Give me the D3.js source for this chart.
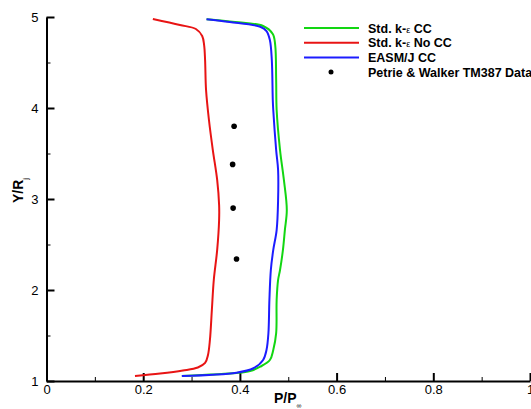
<!DOCTYPE html>
<html>
<head>
<meta charset="utf-8">
<script src="https://cdn.jsdelivr.net/npm/d3@7"></script>
<style>
  body { margin: 0; background: #fff; }
  svg { display: block; font-family: Arial, "Liberation Sans", sans-serif; }
  .axis path, .axis line { stroke: #000; }
  .axis text { font-size: 13px; fill: #000; }
</style>
</head>
<body>
<div id="chart"></div>
<script>
// series: [P/Pinf, Y/Rj]
const stdKeCC = [
  [0.280, 1.055], [0.338, 1.071], [0.393, 1.088], [0.421, 1.110], [0.442, 1.157],
  [0.462, 1.231], [0.469, 1.341], [0.475, 1.527], [0.476, 1.890], [0.479, 2.110],
  [0.483, 2.220], [0.489, 2.440], [0.493, 2.659], [0.497, 2.879], [0.491, 3.209],
  [0.483, 3.538], [0.476, 3.978], [0.475, 4.308], [0.473, 4.692], [0.468, 4.813],
  [0.448, 4.901], [0.390, 4.945], [0.331, 4.975]
];
const stdKeNoCC = [
  [0.183, 1.055], [0.235, 1.082], [0.282, 1.115], [0.313, 1.148], [0.328, 1.198],
  [0.334, 1.286], [0.338, 1.451], [0.342, 1.780], [0.346, 2.110], [0.353, 2.440],
  [0.357, 2.769], [0.357, 2.934], [0.353, 3.209], [0.344, 3.538], [0.336, 3.868],
  [0.330, 4.198], [0.328, 4.527], [0.326, 4.692], [0.322, 4.791], [0.309, 4.868],
  [0.276, 4.912], [0.220, 4.978]
];
const easmCC = [
  [0.280, 1.055], [0.393, 1.091], [0.428, 1.140], [0.448, 1.231], [0.455, 1.341],
  [0.459, 1.527], [0.461, 1.890], [0.464, 2.220], [0.469, 2.440], [0.476, 2.659],
  [0.479, 2.989], [0.479, 3.319], [0.475, 3.538], [0.469, 3.978], [0.468, 4.088],
  [0.466, 4.527], [0.462, 4.747], [0.455, 4.846], [0.442, 4.893], [0.379, 4.945],
  [0.331, 4.975]
];
const petrieData = [
  [0.388, 3.80], [0.385, 3.38], [0.386, 2.90], [0.393, 2.34]
];

const xMajor = [0, 0.2, 0.4, 0.6, 0.8, 1];
const xMinor = [0.1, 0.3, 0.5, 0.7, 0.9];
const yMajor = [1, 2, 3, 4, 5];
const yMinor = [1.5, 2.5, 3.5, 4.5];

const legendItems = [
  { label: 'Std. k-', eps: true, tail: ' CC', color: '#12d612', kind: 'line' },
  { label: 'Std. k-', eps: true, tail: ' No CC', color: '#e81414', kind: 'line' },
  { label: 'EASM/J CC', eps: false, tail: '', color: '#1c1cff', kind: 'line' },
  { label: 'Petrie & Walker TM387 Data', eps: false, tail: '', color: '#000', kind: 'dot' }
];

const W = 531, H = 409;
const x = d3.scaleLinear().domain([0, 1]).range([46.5, 530]);
const y = d3.scaleLinear().domain([1, 5]).range([381, 17]);

const svg = d3.select('#chart').append('svg')
  .attr('width', W).attr('height', H);

// minor ticks
svg.append('g').attr('class', 'axis')
  .attr('transform', `translate(0,${y(1)})`)
  .call(d3.axisBottom(x).tickValues(xMinor).tickSize(-4).tickFormat(''))
  .call(g => g.select('.domain').remove());
svg.append('g').attr('class', 'axis')
  .attr('transform', `translate(${x(0)},0)`)
  .call(d3.axisLeft(y).tickValues(yMinor).tickSize(-4).tickFormat(''))
  .call(g => g.select('.domain').remove());

// major ticks
svg.append('g').attr('class', 'axis')
  .attr('transform', `translate(0,${y(1)})`)
  .call(d3.axisBottom(x).tickValues(xMajor).tickSize(-8).tickPadding(4)
    .tickSizeOuter(0).tickFormat(d3.format('')))
  .call(g => g.select('.domain').attr('stroke-width', 2))
  .call(g => g.selectAll('line').attr('stroke-width', 2));
svg.append('g').attr('class', 'axis')
  .attr('transform', `translate(${x(0)},0)`)
  .call(d3.axisLeft(y).tickValues(yMajor).tickSize(-8).tickPadding(8)
    .tickSizeOuter(0).tickFormat(d3.format('')))
  .call(g => g.select('.domain').attr('stroke-width', 2))
  .call(g => g.selectAll('line').attr('stroke-width', 2));

// curves
const line = d3.line()
  .x(d => x(d[0])).y(d => y(d[1]))
  .curve(d3.curveCatmullRom.alpha(0.5));

const series = [
  { data: stdKeCC, color: legendItems[0].color },
  { data: stdKeNoCC, color: legendItems[1].color },
  { data: easmCC, color: legendItems[2].color }
];
svg.append('g').selectAll('path')
  .data(series)
  .join('path')
  .attr('d', d => line(d.data))
  .attr('fill', 'none')
  .attr('stroke', d => d.color)
  .attr('stroke-width', 2);

svg.append('g').selectAll('circle')
  .data(petrieData)
  .join('circle')
  .attr('cx', d => x(d[0]))
  .attr('cy', d => y(d[1]))
  .attr('r', 2.8)
  .attr('fill', '#000');

// legend
const lg = svg.append('g').attr('transform', 'translate(304,28)');
const rows = lg.selectAll('g').data(legendItems).join('g')
  .attr('transform', (d, i) => `translate(0,${i * 14.7})`);
rows.filter(d => d.kind === 'line').append('line')
  .attr('x1', 0).attr('x2', 55).attr('y1', 0).attr('y2', 0)
  .attr('stroke', d => d.color).attr('stroke-width', 2);
rows.filter(d => d.kind === 'dot').append('circle')
  .attr('cx', 27).attr('cy', 0).attr('r', 2.5).attr('fill', '#000');
const lt = rows.append('text')
  .attr('x', 64).attr('y', 4.5)
  .attr('font-size', 12.5).attr('font-weight', 'bold');
lt.append('tspan').text(d => d.label);
lt.filter(d => d.eps).append('tspan')
  .attr('font-weight', 'normal').attr('font-size', 9).text('\u03b5');
lt.append('tspan').text(d => d.tail);

// axis titles
const xt = svg.append('text')
  .attr('x', 274).attr('y', 403)
  .attr('font-size', 14).attr('font-weight', 'bold');
xt.append('tspan').text('P/P');
xt.append('tspan').attr('font-size', 7).attr('dy', 5).attr('font-weight', 'normal').text('\u221e');

const yt = svg.append('text')
  .attr('transform', 'translate(23,203) rotate(-90)')
  .attr('font-size', 14).attr('font-weight', 'bold');
yt.append('tspan').text('Y/R');
yt.append('tspan').attr('font-size', 8).attr('dy', 5).attr('font-weight', 'normal').text('j');
</script>
</body>
</html>
